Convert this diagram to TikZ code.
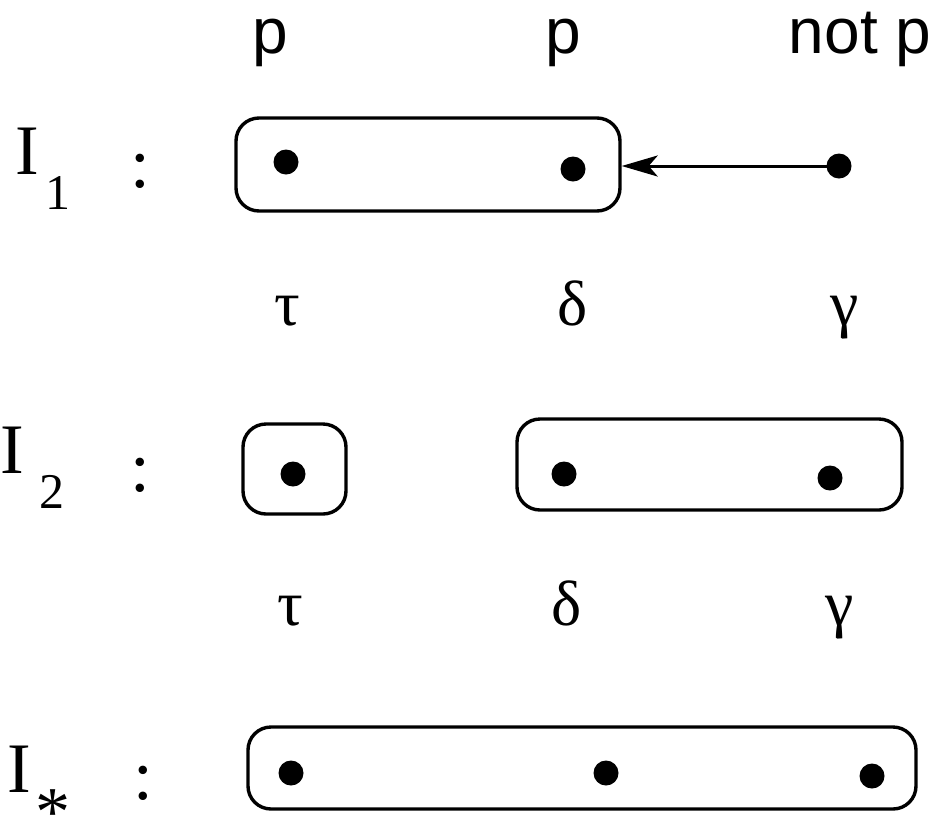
\documentclass[tikz,border=0pt]{standalone}
\usepackage{fontspec}
\setmainfont{Liberation Serif}
\newfontfamily\labelsans{Liberation Sans}
\usetikzlibrary{arrows.meta}

\begin{document}
\begin{tikzpicture}[x=1pt,y=-1pt,
  world/.style={draw, line width=3.4pt, rounded corners=23pt, inner sep=0pt},
  pt/.style={circle, fill=black, inner sep=0pt, minimum size=25pt},
  prop/.style={anchor=base, inner sep=0pt, font=\labelsans\fontsize{64}{70}\selectfont},
  greek/.style={anchor=base, inner sep=0pt, font=\fontsize{64}{70}\selectfont},
  iname/.style={anchor=base, inner sep=0pt, font=\fontsize{71}{78}\selectfont},
  isub/.style={anchor=base, inner sep=0pt, font=\fontsize{50}{56}\selectfont},
  colon/.style={anchor=base, inner sep=0pt, font=\fontsize{71}{78}\selectfont},
  link/.style={line width=3pt, -{Stealth[length=36pt, width=21pt, inset=9pt]}}
]
\useasboundingbox (0,0) rectangle (937,823);

% proposition values per world
\node[prop] (p1) at (270,53) {p};
\node[prop] (p2) at (563,53) {p};
\node[prop] (p3) at (860,53) {not p};

% interpretation I_1
\node[iname] (I1) at (27,174) {I};
\node[isub] (I1s) at (58,209) {1};
\node[colon] (c1) at (140,187) {:};
\node[world, minimum width=384pt, minimum height=93pt] (b1) at (428,164.5) {};
\node[pt] (t1) at (286,162) {};
\node[pt] (d1) at (573,169) {};
\node[pt] (g1) at (839,166) {};
\draw[link] (g1.center) -- (b1.east |- g1.center);

\node[greek] (tau1) at (287,325) {τ};
\node[greek] (del1) at (573,325) {δ};
\node[greek] (gam1) at (845,325) {γ};

% interpretation I_2
\node[iname] (I2) at (12.5,473) {I};
\node[isub] (I2s) at (52,508) {2};
\node[colon] (c2) at (140,491) {:};
\node[world, minimum width=103pt, minimum height=90pt] (b2a) at (294.5,469) {};
\node[world, minimum width=385pt, minimum height=91pt] (b2b) at (709.5,464.5) {};
\node[pt] (t2) at (293,474) {};
\node[pt] (d2) at (564,474) {};
\node[pt] (g2) at (830,478) {};

\node[greek] (tau2) at (290,625) {τ};
\node[greek] (del2) at (567,625) {δ};
\node[greek] (gam2) at (840,625) {γ};

% interpretation I_*
\node[iname] (I3) at (19.5,792) {I};
\node[isub, anchor=center, font=\fontsize{70}{76}\selectfont] (I3s) at (53,810) {\raisebox{-25pt}[0pt][0pt]{*}};
\node[colon] (c3) at (143,799) {:};
\node[world, minimum width=668pt, minimum height=82pt] (b3) at (582,768) {};
\node[pt] (t3) at (291,773) {};
\node[pt] (d3) at (606,773) {};
\node[pt] (g3) at (872,776) {};
\end{tikzpicture}
\end{document}
